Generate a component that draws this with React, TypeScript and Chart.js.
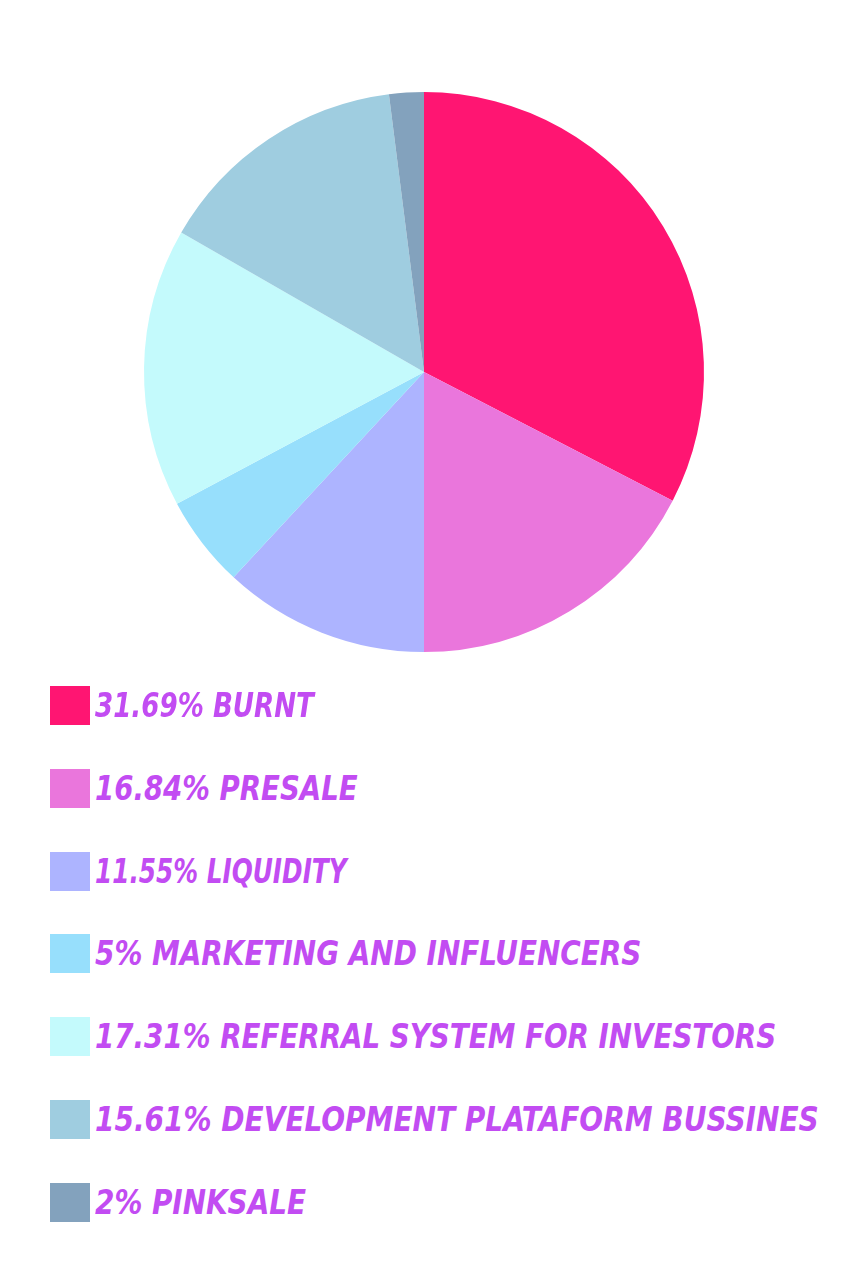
import React, { useEffect, useRef } from "react";
import { Chart, registerables } from "chart.js";

Chart.register(...registerables);

const categories = ["Burnt", "Presale", "Liquidity", "Marketing and influencers", "Referral system for investors", "Development plataform bussines", "Pinksale"];
const sliceValues = [32.6, 17.4, 11.9, 5.3, 16.1, 14.7, 2.0];
const legendLabels = [
  "31.69% BURNT",
  "16.84% PRESALE",
  "11.55% LIQUIDITY",
  "5% MARKETING AND INFLUENCERS",
  "17.31% REFERRAL SYSTEM FOR INVESTORS",
  "15.61% DEVELOPMENT PLATAFORM BUSSINES",
  "2% PINKSALE",
];
const colors = ["#ff1572", "#ea76dc", "#adb4ff", "#97dffc", "#c4fafc", "#9fcde0", "#83a2bd"];
const labelScales = [0.88, 0.93, 0.834, 0.939, 0.934, 0.943, 0.938];

export default function App() {
  const ref = useRef<HTMLCanvasElement>(null);
  useEffect(() => {
    if (!ref.current) return;
    const chart = new Chart(ref.current, {
      type: "pie",
      data: {
        labels: categories,
        datasets: [{ data: sliceValues, backgroundColor: colors, borderWidth: 0 }],
      },
      options: {
        animation: false,
        responsive: false,
        maintainAspectRatio: false,
        layout: { padding: { top: 92, bottom: 92, left: 144, right: 149 } },
        plugins: { legend: { display: false }, tooltip: { enabled: false } },
      },
    });
    return () => chart.destroy();
  }, []);

  return (
    <div style={{ position: "absolute", left: 0, top: 0, width: 853, height: 1280, background: "#fff" }}>
      <canvas ref={ref} width={853} height={744} style={{ position: "absolute", left: 0, top: 0, width: 853, height: 744 }} />
      {legendLabels.map((t, i) => (
        <div key={i} style={{ position: "absolute", left: 50, top: 686 + i * 82.8, height: 39, display: "flex", alignItems: "center" }}>
          <div style={{ width: 40, height: 39, background: colors[i], flex: "none" }} />
          <div
            style={{
              marginLeft: 5,
              fontFamily: "'DejaVu Sans Condensed', 'DejaVu Sans', sans-serif",
              fontWeight: "bold",
              fontStyle: "italic",
              fontSize: 33,
              color: "#c24cf2",
              whiteSpace: "nowrap",
              lineHeight: "39px",
              transform: `scaleX(${labelScales[i]})`,
              transformOrigin: "left center",
            }}
          >
            {t}
          </div>
        </div>
      ))}
    </div>
  );
}
